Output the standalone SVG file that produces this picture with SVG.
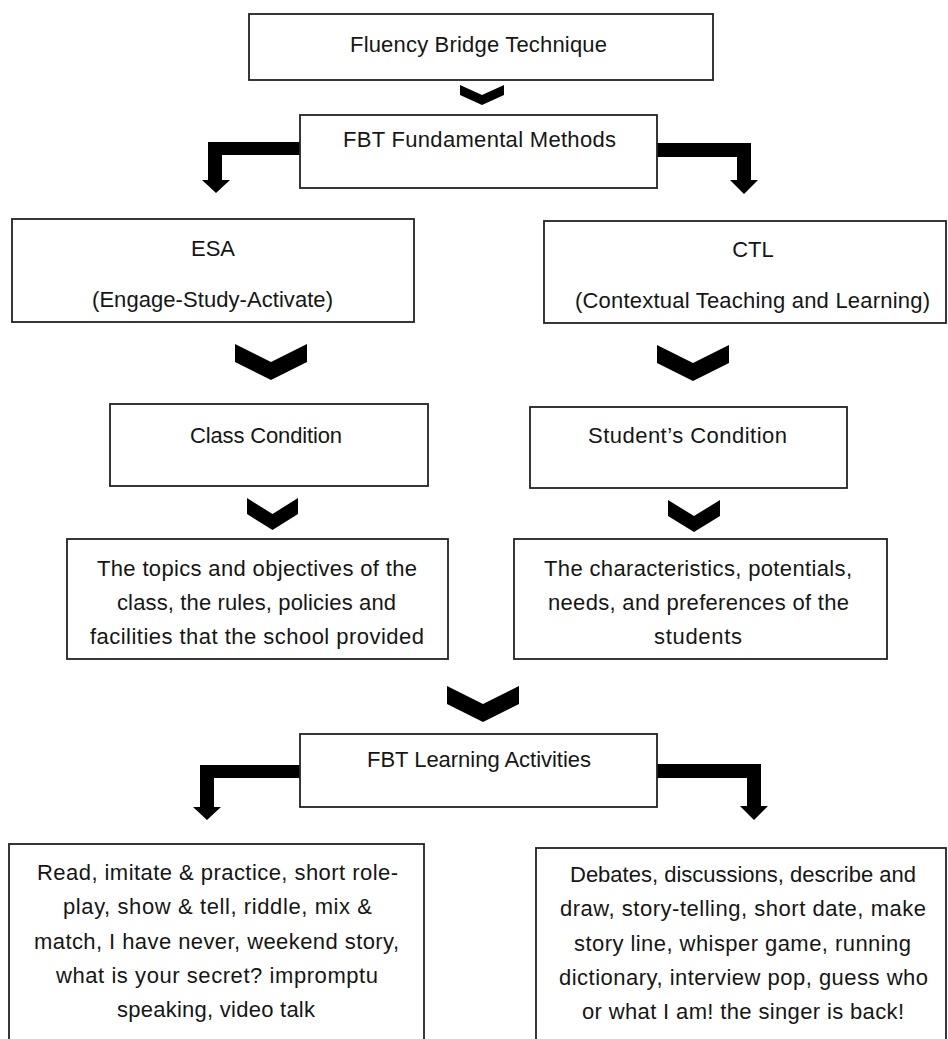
<svg xmlns="http://www.w3.org/2000/svg" width="948" height="1039" viewBox="0 0 948 1039">
<style>
.box{fill:#fff;stroke:#222;stroke-width:1.8}
.t{font-family:"Liberation Sans",Arial,sans-serif;font-size:22px;fill:#161616;text-anchor:middle}
.ar{fill:#000;stroke:none}
</style>
<rect width="948" height="1039" fill="#fff"/>
<g id="connectors">
<polygon class="ar" points="460,85 482,95 504,85 504,95 482,105 460,95"/>
<polygon class="ar" points="300,142 208,142 208,180 202,180 216,193 230,180 222,180 222,155 300,155"/>
<polygon class="ar" points="657,143 751,143 751,180 758,180 744,194 730,180 737,180 737,157 657,157"/>
<polygon class="ar" points="235,344 271,362 307,344 307,362 271,380 235,362"/>
<polygon class="ar" points="657,345 693,363 729,345 729,363 693,381 657,363"/>
<polygon class="ar" points="247,498 272.5,514 298,498 298,514 272.5,530 247,514"/>
<polygon class="ar" points="668,500 694,516 720,500 720,516 694,532 668,516"/>
<polygon class="ar" points="447,686 483,704 519,686 519,704 483,722 447,704"/>
<polygon class="ar" points="300,765 200,765 200,807 193,807 207,820 221,807 214,807 214,778 300,778"/>
<polygon class="ar" points="657,764 761,764 761,806 768,806 754,820 740,806 747,806 747,778 657,778"/>
</g>
<g id="n1">
<rect class="box" x="249" y="14" width="464" height="66"/>
<text class="t" x="478.5" y="52" textLength="257">Fluency Bridge Technique</text>
</g>
<g id="n2">
<rect class="box" x="300" y="115" width="357" height="73"/>
<text class="t" x="479.5" y="147" textLength="273">FBT Fundamental Methods</text>
</g>
<g id="n3">
<rect class="box" x="12" y="219" width="402" height="103"/>
<text class="t" x="213" y="256">ESA</text>
<text class="t" x="212.5" y="307" textLength="241">(Engage-Study-Activate)</text>
</g>
<g id="n4">
<rect class="box" x="544" y="221" width="402" height="102"/>
<text class="t" x="753" y="257">CTL</text>
<text class="t" x="752.5" y="308" textLength="355">(Contextual Teaching and Learning)</text>
</g>
<g id="n5">
<rect class="box" x="110" y="404" width="318" height="82"/>
<text class="t" x="266" y="443" textLength="152">Class Condition</text>
</g>
<g id="n6">
<rect class="box" x="530" y="407" width="317" height="81"/>
<text class="t" x="687.5" y="443" textLength="199">Student’s Condition</text>
</g>
<g id="n7">
<rect class="box" x="67" y="539" width="381" height="120"/>
<text class="t" x="257" y="576" textLength="320">The topics and objectives of the</text>
<text class="t" x="256.5" y="610" textLength="279">class, the rules, policies and</text>
<text class="t" x="257" y="644" textLength="334">facilities that the school provided</text>
</g>
<g id="n8">
<rect class="box" x="514" y="539" width="373" height="120"/>
<text class="t" x="698" y="576" textLength="308">The characteristics, potentials,</text>
<text class="t" x="698.5" y="610" textLength="301">needs, and preferences of the</text>
<text class="t" x="698" y="644" textLength="88">students</text>
</g>
<g id="n9">
<rect class="box" x="300" y="734" width="357" height="73"/>
<text class="t" x="479" y="767" textLength="224">FBT Learning Activities</text>
</g>
<g id="n10">
<rect class="box" x="9" y="844" width="415" height="210"/>
<text class="t" x="217.5" y="880" textLength="361">Read, imitate &amp; practice, short role-</text>
<text class="t" x="217.5" y="914" textLength="309">play, show &amp; tell, riddle, mix &amp;</text>
<text class="t" x="216.5" y="949" textLength="365">match, I have never, weekend story,</text>
<text class="t" x="217" y="983" textLength="322">what is your secret? impromptu</text>
<text class="t" x="216" y="1017" textLength="198">speaking, video talk</text>
</g>
<g id="n11">
<rect class="box" x="536" y="848" width="410" height="210"/>
<text class="t" x="743" y="882" textLength="346">Debates, discussions, describe and</text>
<text class="t" x="743" y="916" textLength="366">draw, story-telling, short date, make</text>
<text class="t" x="742.5" y="951" textLength="337">story line, whisper game, running</text>
<text class="t" x="743.5" y="985" textLength="369">dictionary, interview pop, guess who</text>
<text class="t" x="743" y="1019" textLength="322">or what I am! the singer is back!</text>
</g>
</svg>
